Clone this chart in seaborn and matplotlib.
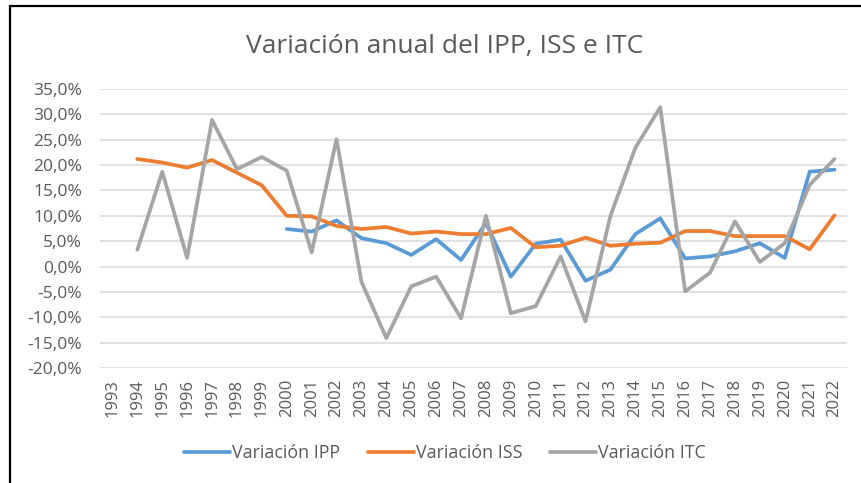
import numpy as np
import pandas as pd
import matplotlib
matplotlib.use("Agg")
import matplotlib.pyplot as plt
import matplotlib.ticker as mticker
from matplotlib.lines import Line2D
import seaborn as sns

# ── data ──────────────────────────────────────────────────────────────────────
years = list(range(1993, 2023))

ipp = [np.nan] * 7 + [7.4, 6.9, 9.1, 5.6, 4.6, 2.3, 5.4, 1.3, 8.6, -2.0,
                      4.5, 5.3, -2.8, -0.6, 6.4, 9.5, 1.6, 2.0, 3.0, 4.6,
                      1.7, 18.7, 19.1]
iss = [np.nan, 21.2, 20.5, 19.5, 21.0, 18.5, 16.0, 10.0, 9.9, 8.0, 7.4,
       7.8, 6.5, 6.9, 6.4, 6.4, 7.6, 3.8, 4.1, 5.7, 4.1, 4.5, 4.7, 7.0,
       7.0, 6.0, 6.0, 6.0, 3.4, 10.1]
itc = [np.nan, 3.3, 18.7, 1.7, 28.9, 19.2, 21.6, 18.9, 2.8, 25.1, -3.0,
       -14.1, -3.9, -2.0, -10.2, 10.0, -9.2, -7.8, 2.0, -10.8, 10.0, 23.4,
       31.4, -4.9, -1.2, 8.9, 0.9, 4.6, 16.1, 21.2]

series_names = ["Variación IPP", "Variación ISS", "Variación ITC"]
colors = ["#5B9BD5", "#ED7D31", "#A5A5A5"]
title = "Variación anual del IPP, ISS e ITC"

df = pd.DataFrame({"year": years, series_names[0]: ipp,
                   series_names[1]: iss, series_names[2]: itc})
long = df.melt(id_vars="year", var_name="serie", value_name="valor")

# ── plot ──────────────────────────────────────────────────────────────────────
sns.set_style("white")
plt.rcParams["font.family"] = ["Open Sans", "DejaVu Sans"]
txt = "#595959"

fig = plt.figure(figsize=(8.61, 4.83), dpi=100)
ax = fig.add_axes([100 / 861, 1 - 368 / 483, 747 / 861, 279 / 483])

sns.lineplot(data=long, x="year", y="valor", hue="serie",
             hue_order=series_names, palette=colors, lw=2.7,
             ax=ax, legend=False)

ax.set_xlim(1992.5, 2022.5)
ax.set_ylim(-20, 35)
ax.set_yticks(np.arange(-20, 36, 5))
ax.yaxis.set_major_formatter(
    mticker.FuncFormatter(lambda v, _: f"{v:.1f}%".replace(".", ",")))
ax.set_xticks(years)
ax.set_xticklabels([str(y) for y in years], rotation=90)
ax.tick_params(axis="y", colors=txt, labelsize=12.5, length=0, pad=13)
ax.tick_params(axis="x", colors=txt, labelsize=12, length=0, pad=8)
ax.grid(axis="y", color="#D9D9D9", lw=1.1)
ax.set_axisbelow(True)
for s in ax.spines.values():
    s.set_visible(False)
ax.set_xlabel("")
ax.set_ylabel("")

fig.text(445 / 861, 1 - 46 / 483, title, ha="center", va="center",
         fontsize=19, color=txt)

handles = [Line2D([0], [0], color=c, lw=2.7) for c in colors]
fig.legend(handles, series_names, loc="center", ncol=3,
           bbox_to_anchor=(445 / 861, 1 - 453 / 483), frameon=False,
           fontsize=12.8, labelcolor=txt, handlelength=2.6,
           handletextpad=0.11, columnspacing=1.55)

# chart border (top and left edges)
fig.add_artist(Line2D([10 / 861, 10 / 861], [0, 1 - 6 / 483],
                      color="black", lw=1.6, transform=fig.transFigure))
fig.add_artist(Line2D([10 / 861, 1], [1 - 6 / 483, 1 - 6 / 483],
                      color="black", lw=1.6, transform=fig.transFigure))

fig.savefig("out.png", dpi=100)
